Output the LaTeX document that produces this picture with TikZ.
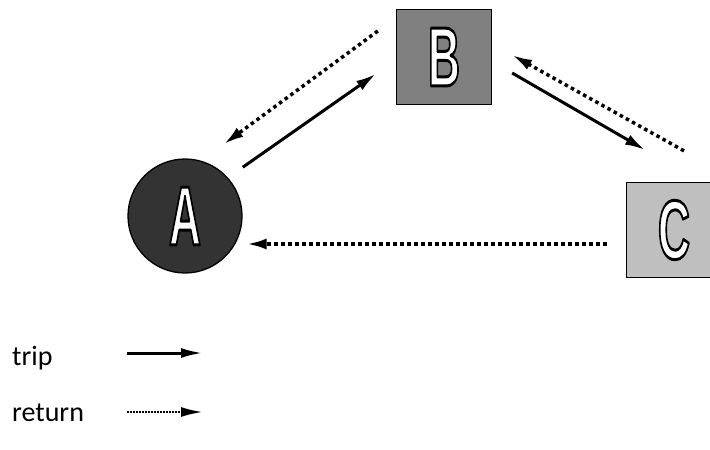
\documentclass[tikz,border=0pt]{standalone}
\usepackage{fontspec}
\usepackage{graphicx}
\usetikzlibrary{arrows.meta}
\setmainfont{Carlito}
\newfontfamily\stopfont{Liberation Sans}[UprightFont=*-Bold]
% white letter with a black outline (text render mode 2)
\newcommand{\stoplabel}[1]{\scalebox{0.53}[1]{\textcolor{white}{\special{pdf:literal 2 Tr 0 G 3 w 1 j}#1\special{pdf:literal 0 Tr}}}}

\begin{document}
\begin{tikzpicture}[x=1pt,y=-1pt]
  \tikzset{ hub/.style={circle,draw,line width=1.3pt,fill=black!80,inner sep=0pt,minimum size=114pt,font=\stopfont\fontsize{84}{84}\selectfont},
    stopbox/.style={rectangle,draw,line width=1.3pt,inner sep=0pt,minimum size=95pt,font=\stopfont\fontsize{84}{84}\selectfont},
    trip/.style={line width=3pt,-{Latex[length=20pt,width=11pt]}},
    ret/.style={line width=3.5pt,dash pattern=on 3.5pt off 3.5pt,-{Latex[length=20pt,width=11pt]}},
  }
  \useasboundingbox (0,0) rectangle (710,450);
  \clip (0,0) rectangle (710,450);

  \node[hub] (A) at (185, 216) {\stoplabel{A}};
  \node[stopbox,fill=gray] (B) at (444, 57) {\stoplabel{B}};
  \node[stopbox,fill=black!25] (C) at (674, 230) {\stoplabel{C}};

  \draw[trip] ([xshift=17pt,yshift=8pt]A.north east) -- ([xshift=-20pt,yshift=-17pt]B.west);
  \draw[ret] ([xshift=-18pt,yshift=26pt]B.west) -- ([xshift=-2pt,yshift=31pt]A.north east);
  \draw[trip] ([xshift=20pt,yshift=-16pt]B.east) -- ([xshift=-29pt,yshift=32pt]C.north);
  \draw[ret] ([xshift=10pt,yshift=31pt]C.north) -- ([xshift=20pt,yshift=2pt]B.east);
  \draw[ret] ([xshift=-19pt,yshift=-14pt]C.west) -- ([xshift=4pt,yshift=-28pt]A.east);

  % legend
  \node[anchor=base west,inner sep=0pt,font=\fontsize{28}{28}\selectfont] (tlab) at (12, 365) {trip};
  \node[anchor=base west,inner sep=0pt,font=\fontsize{28}{28}\selectfont] (rlab) at (12, 421) {return};
  \coordinate (t0) at (127, 353);
  \coordinate (t1) at (203, 353);
  \coordinate (r0) at (127, 412);
  \coordinate (r1) at (203, 412);
  \draw[line width=3pt,-{Latex[length=22pt,width=10pt]}] (t0) -- (t1);
  \draw[line width=2.5pt,dash pattern=on 1.5pt off 1.5pt,-{Latex[length=22pt,width=10pt]}] (r0) -- (r1);
\end{tikzpicture}
\end{document}
